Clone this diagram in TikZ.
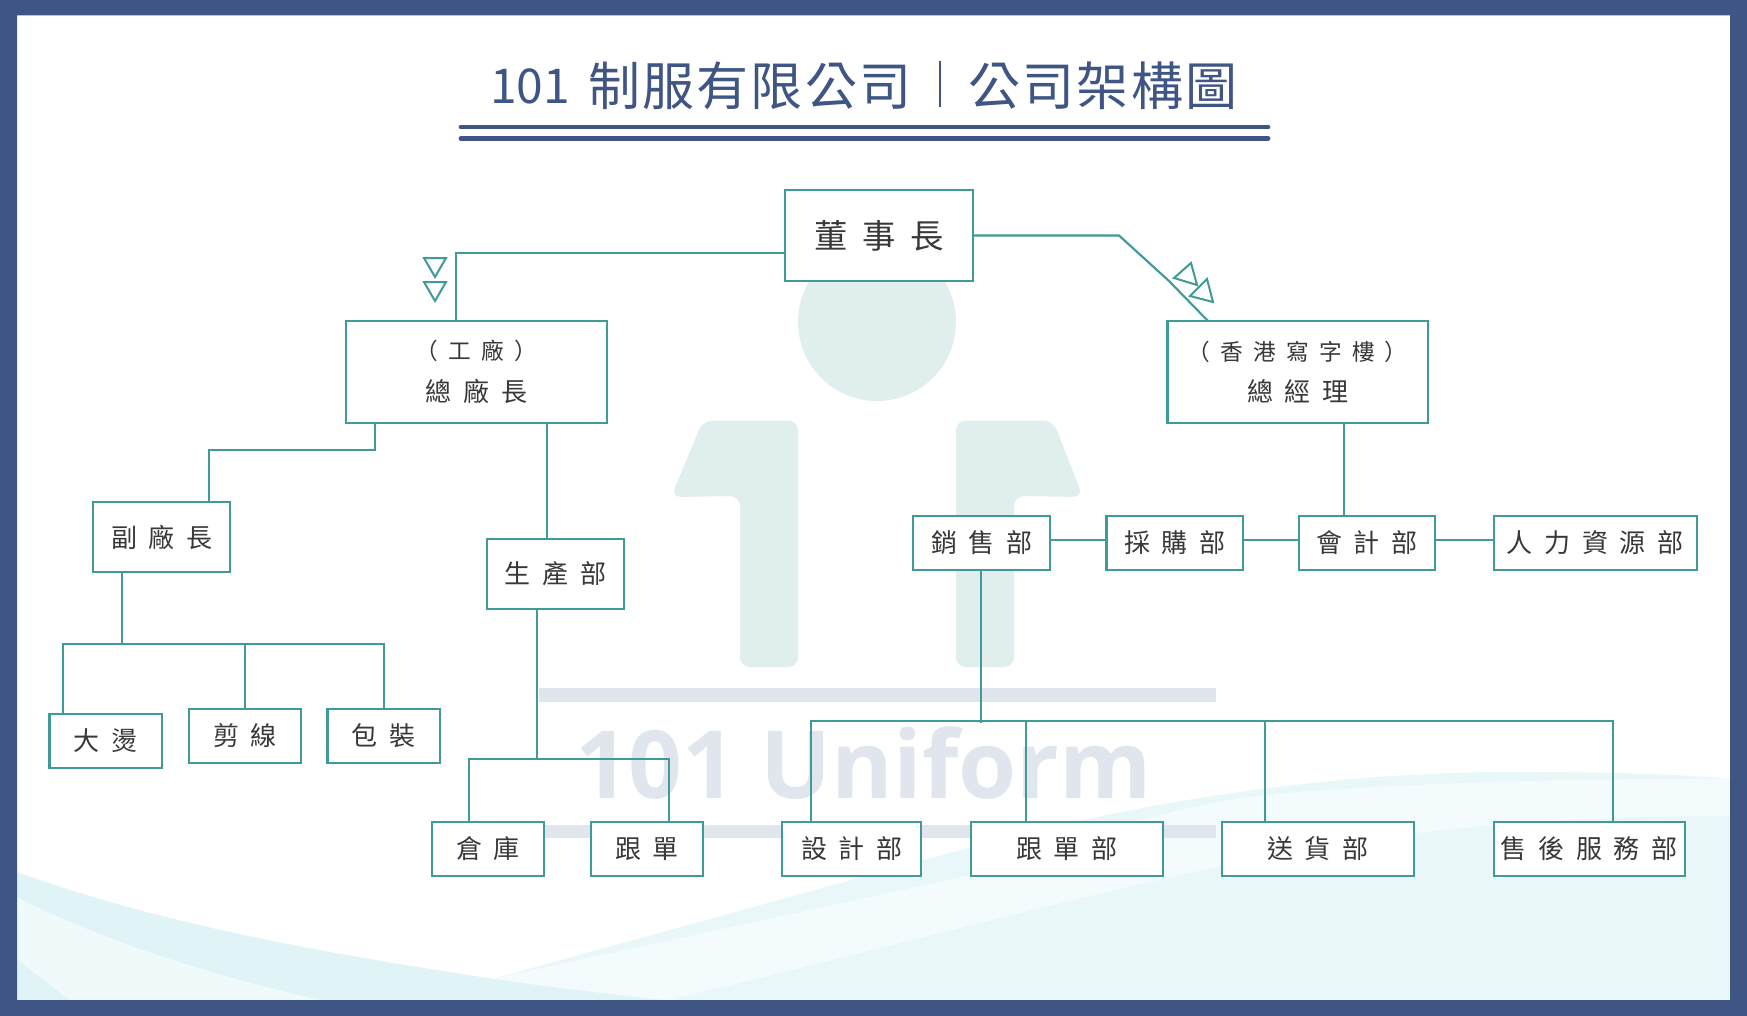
\documentclass[tikz,border=0pt]{standalone}
\usepackage{fontspec}
\newfontfamily\orgfont[LetterSpace=45]{Noto Sans CJK TC}
\newfontfamily\titlefont[LetterSpace=4]{Noto Sans CJK TC}
\newfontfamily\titlenumfont{Noto Sans CJK TC}
\newfontfamily\markfont{Open Sans}
\definecolor{framecol}{HTML}{3F5685}
\definecolor{orgteal}{HTML}{3F9A98}
\definecolor{orgtext}{HTML}{383838}
\definecolor{markhead}{HTML}{E1EEEE}
\definecolor{markbar}{HTML}{E1E5ED}
\definecolor{waveA}{HTML}{E9F7F8}
\definecolor{waveB}{HTML}{F4FBFC}
\definecolor{waveC}{HTML}{E0F3F7}
\definecolor{waveD}{HTML}{F0FAFB}
\tikzset{every picture/.style={line width=0.75pt}}
\tikzset{
	orgbox/.style 2 args={draw=orgteal,fill=white,line width=1.6pt,inner sep=0pt,outer sep=0pt,
		minimum width=#1*0.75pt,minimum height=#2*0.75pt,text=orgtext,align=center,
		font=\orgfont\fontsize{19.5}{31}\selectfont},
	orgline/.style={draw=orgteal,line width=1.6pt},
	orgmarker/.style={draw=orgteal,line width=1.5pt,line join=miter},
	titleline/.style={draw=framecol,line width=3.6pt,line cap=round}
}

\begin{document}
\begin{tikzpicture}[x=0.75pt,y=0.75pt,yscale=-1,xscale=1]
	\useasboundingbox (0,0) rectangle (1747,1016);

	%Background
	\fill [white] (0,0) rectangle (1747,1016);
	%Waves
	\fill [waveA] (496,978) -- (971,847) .. controls (1100,812) and (1300,772) .. (1512,772) .. controls (1600,772) and (1680,774) .. (1730,779) -- (1730,1000) -- (496,1000) -- cycle;
	\fill [waveB] (496,978) -- (971,875) .. controls (1060,850) and (1150,808) .. (1265,795) .. controls (1400,782) and (1600,778) .. (1730,779) -- (1730,1000) -- (496,1000) -- cycle;
	\fill [waveA] (677,998) .. controls (900,945) and (1100,890) .. (1265,857) .. controls (1400,830) and (1550,816) .. (1730,816) -- (1730,1000) -- (677,1000) -- cycle;
	\fill [waveC] (17,872) .. controls (150,920) and (300,950) .. (495,979) .. controls (560,989) and (620,995) .. (663,1000) -- (17,1000) -- cycle;
	\fill [waveD] (17,897) .. controls (100,940) and (210,975) .. (321,1000) -- (17,1000) -- cycle;
	\fill [waveC] (17,959) -- (69,1000) -- (17,1000) -- cycle;

	%Watermark shirt
	\fill [markhead] (877,322) circle (79);
	\fill [markhead,rounded corners=7.5pt] (671,497) -- (703,420.5) -- (798,420.5) -- (798,667) -- (740,667) -- (740,496) -- cycle;
	\fill [markhead,rounded corners=7.5pt] (1083,497) -- (1053,420.5) -- (956,420.5) -- (956,667) -- (1014,667) -- (1014,496) -- cycle;
	%Watermark bars
	\fill [markbar] (539,688) rectangle (1216,701.5);
	\fill [markbar] (539,825) rectangle (1216,838);
	% Text Node
	\node [text=markbar,font=\markfont\bfseries\fontsize{70.5}{80}\selectfont] (marktext) at (863.5,763) {101 Uniform};

	%Frame
	\fill [framecol,even odd rule] (0,0) rectangle (1747,1016) (17,15.5) rectangle (1730,1000);

	% Text Node
	\node [text=framecol,font=\titlenumfont\fontsize{36}{40}\selectfont] (titlenum) at (530,86) {101};
	% Text Node
	\node [text=framecol,font=\titlefont\fontsize{39}{44}\selectfont] (titlecompany) at (750,86) {制服有限公司};
	% Text Node
	\node [text=framecol,font=\titlefont\fontsize{39}{44}\selectfont] (titlechart) at (1103,86) {公司架構圖};
	%Straight Lines
	\draw [draw=framecol,line width=1pt] (940,61) -- (940,107);
	\draw [titleline] (461,127) -- (1268,127);
	\draw [titleline] (461,138.5) -- (1268,138.5);

	%Boxes
	\node [orgbox={188}{91},font=\orgfont\fontsize{25}{30}\selectfont] (chair) at (879,235.5) {董事長};
	\node [orgbox={261.4}{102}] (factory) at (476.3,372) {{\fontsize{17}{31}\selectfont （工廠）}\\總廠長};
	\node [orgbox={260.5}{102}] (office) at (1297.7,372) {{\fontsize{17}{31}\selectfont （香港寫字樓）}\\總經理};
	\node [orgbox={136.6}{70}] (deputy) at (161.7,537) {副廠長};
	\node [orgbox={137}{70}] (production) at (555.5,574) {生產部};
	\node [orgbox={112.5}{54}] (ironing) at (105.7,741) {大燙};
	\node [orgbox={112}{54}] (cutting) at (245,736) {剪線};
	\node [orgbox={112.5}{54}] (packing) at (383.7,736) {包裝};
	\node [orgbox={112}{54}] (storage) at (488,849) {倉庫};
	\node [orgbox={112}{54}] (tracking) at (647,849) {跟單};
	\node [orgbox={136.6}{54}] (sales) at (981.7,543) {銷售部};
	\node [orgbox={136.6}{54}] (purchase) at (1174.8,543) {採購部};
	\node [orgbox={136}{54}] (account) at (1367,543) {會計部};
	\node [orgbox={202.6}{54}] (personnel) at (1595.3,543) {人力資源部};
	\node [orgbox={138.6}{54}] (design) at (851.7,849) {設計部};
	\node [orgbox={191.6}{54}] (trackdept) at (1066.8,849) {跟單部};
	\node [orgbox={192}{54}] (delivery) at (1318,849) {送貨部};
	\node [orgbox={190.5}{54}] (service) at (1589.3,849) {售後服務部};

	%Junctions
	\coordinate (factorytap) at (455.7,252.7);
	\coordinate (officebend) at (1119,235.5);
	\coordinate (officeknee) at (1169,281);
	\coordinate (officetap) at (1208,300);
	\coordinate (deputytap) at (374.6,450);
	\coordinate (deputyelbow) at (208.7,450);
	\coordinate (productiontap) at (547.4,480);
	\coordinate (accounttap) at (1344.4,470);
	\coordinate (rowtap) at (1000,540);
	\coordinate (deputyfork) at (122,644);
	\coordinate (ironingtap) at (63,644);
	\coordinate (cuttingtap) at (245,644);
	\coordinate (packingtap) at (384,644);
	\coordinate (productionfork) at (537,759);
	\coordinate (storagetap) at (469,759);
	\coordinate (trackingtap) at (669,759);
	\coordinate (salesfork) at (981.4,723.4);
	\coordinate (designtap) at (811,721);
	\coordinate (trackdepttap) at (1026,721);
	\coordinate (deliverytap) at (1265,721);
	\coordinate (servicetap) at (1613,721);

	%Straight Lines
	\draw [orgline] (chair.west |- factorytap) -- (factorytap) -- (factorytap |- factory.north);
	\draw [orgline] (chair.east) -- (officebend) -- (officeknee) -- (officetap |- office.north);
	\draw [orgline] (deputytap |- factory.south) -- (deputytap) -- (deputyelbow) -- (deputyelbow |- deputy.north);
	\draw [orgline] (productiontap |- factory.south) -- (productiontap |- production.north);
	\draw [orgline] (accounttap |- office.south) -- (accounttap |- account.north);
	\draw [orgline] (sales.east |- rowtap) -- (purchase.west |- rowtap);
	\draw [orgline] (purchase.east |- rowtap) -- (account.west |- rowtap);
	\draw [orgline] (account.east |- rowtap) -- (personnel.west |- rowtap);
	\draw [orgline] (deputyfork |- deputy.south) -- (deputyfork);
	\draw [orgline] (ironingtap |- ironing.north) -- (ironingtap) -- (packingtap) -- (packingtap |- packing.north);
	\draw [orgline] (cuttingtap) -- (cutting.north);
	\draw [orgline] (productionfork |- production.south) -- (productionfork);
	\draw [orgline] (storagetap |- storage.north) -- (storagetap) -- (trackingtap) -- (trackingtap |- tracking.north);
	\draw [orgline,line width=1.4pt] (salesfork |- sales.south) -- (salesfork);
	\draw [orgline] (designtap |- design.north) -- (designtap) -- (servicetap) -- (servicetap |- service.north);
	\draw [orgline] (trackdepttap) -- (trackdepttap |- trackdept.north);
	\draw [orgline] (deliverytap) -- (deliverytap |- delivery.north);

	%Markers
	\draw [orgmarker] (424,258) -- (446,258) -- (435,277) -- cycle;
	\draw [orgmarker] (424,282) -- (446,282) -- (435,301) -- cycle;
	\draw [orgmarker] (1191,263) -- (1174,278) -- (1197,285) -- cycle;
	\draw [orgmarker] (1207,279) -- (1190,296) -- (1213,302) -- cycle;
\end{tikzpicture}
\end{document}
